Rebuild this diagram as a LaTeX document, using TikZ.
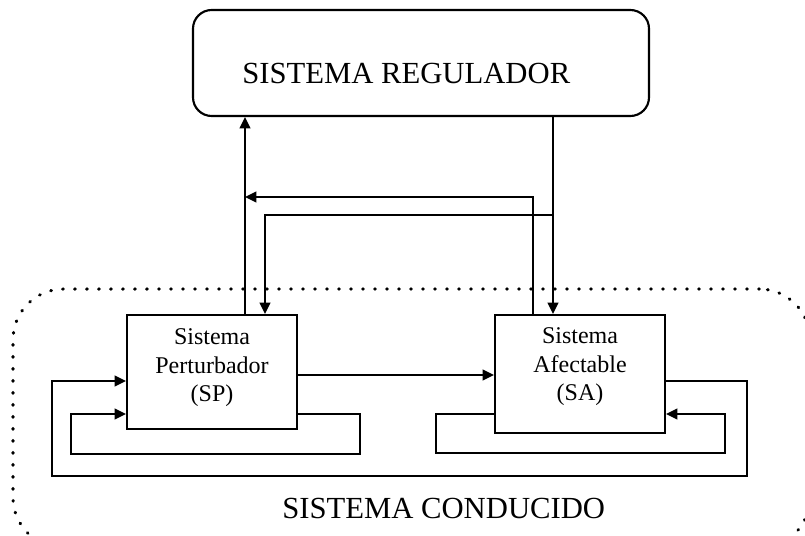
\documentclass[tikz,border=0pt]{standalone}
\usepackage{fontspec}
\setmainfont{Liberation Serif}
\usetikzlibrary{arrows.meta}
\begin{document}
\begin{tikzpicture}[x=0.75pt,y=-0.75pt,
  arr/.style={line width=1.6pt,-{Triangle[length=8.5pt,width=8pt]}},
  sysbox/.style={draw,line width=1.6pt,inner sep=0pt,minimum width=127.5pt},
  bigtxt/.style={inner sep=0pt,font=\fontsize{23}{27}\selectfont},
  smalltxt/.style={inner sep=0pt,align=center,font=\fontsize{18}{21.4}\selectfont},
  dotbound/.style={draw,line width=2.3pt,line cap=round,dash pattern=on 0.6pt off 8.4pt,rounded corners=38pt}]
\useasboundingbox (0,0) rectangle (805,535);
\clip (0,0) rectangle (805,535);
% boundary of the driven system
\node[dotbound,minimum width=597.75pt,minimum height=194.25pt] (cond) at (411.5,418.5) {};
% regulator
\node[draw,line width=1.6pt,rounded corners=14pt,minimum width=342pt,minimum height=79.5pt] (reg) at (421,63) {};
\node[bigtxt,anchor=base west] (regt) at (242,84) {SISTEMA REGULADOR};
% boxes
\node[sysbox,minimum height=85.5pt,fill=white] (SP) at (212,372) {};
\node[sysbox,minimum height=88.5pt,fill=white] (SA) at (580,374) {};
\node[smalltxt] (SPt) at (212,368) {Sistema\\Perturbador\\(SP)};
\node[smalltxt] (SAt) at (580,367) {Sistema\\Afectable\\(SA)};
\node[bigtxt,anchor=base west] (condt) at (282,518) {SISTEMA CONDUCIDO};
% coordinates
\coordinate (xa) at (245,0);
\coordinate (xb) at (553,0);
\coordinate (j1) at (553,215);
\coordinate (j2) at (265,215);
\coordinate (k1) at (533,197);
\coordinate (k2) at (245,197);
\coordinate (ym) at (400,375);
\coordinate (o1) at (747,381);
\coordinate (o2) at (747,476);
\coordinate (o3) at (52,476);
\coordinate (o4) at (52,381);
\coordinate (p1) at (360,414);
\coordinate (p2) at (360,454);
\coordinate (p3) at (71,454);
\coordinate (p4) at (71,414);
\coordinate (q1) at (436,414);
\coordinate (q2) at (436,453);
\coordinate (q3) at (725,453);
\coordinate (q4) at (725,414);
% connectors
\draw[arr] (SP.north -| xa) -- (reg.south -| xa);
\draw[arr] (reg.south -| xb) -- (SA.north -| xb);
\draw[arr] (j1) -- (j2) -- (SP.north -| j2);
\draw[arr] (SA.north -| k1) -- (k1) -- (k2);
\draw[arr] (SP.east |- ym) -- (SA.west |- ym);
\draw[arr] (SA.east |- o1) -- (o1) -- (o2) -- (o3) -- (o4) -- (SP.west |- o4);
\draw[arr] (SP.east |- p1) -- (p1) -- (p2) -- (p3) -- (p4) -- (SP.west |- p4);
\draw[arr] (SA.west |- q1) -- (q1) -- (q2) -- (q3) -- (q4) -- (SA.east |- q4);
\end{tikzpicture}
\end{document}
